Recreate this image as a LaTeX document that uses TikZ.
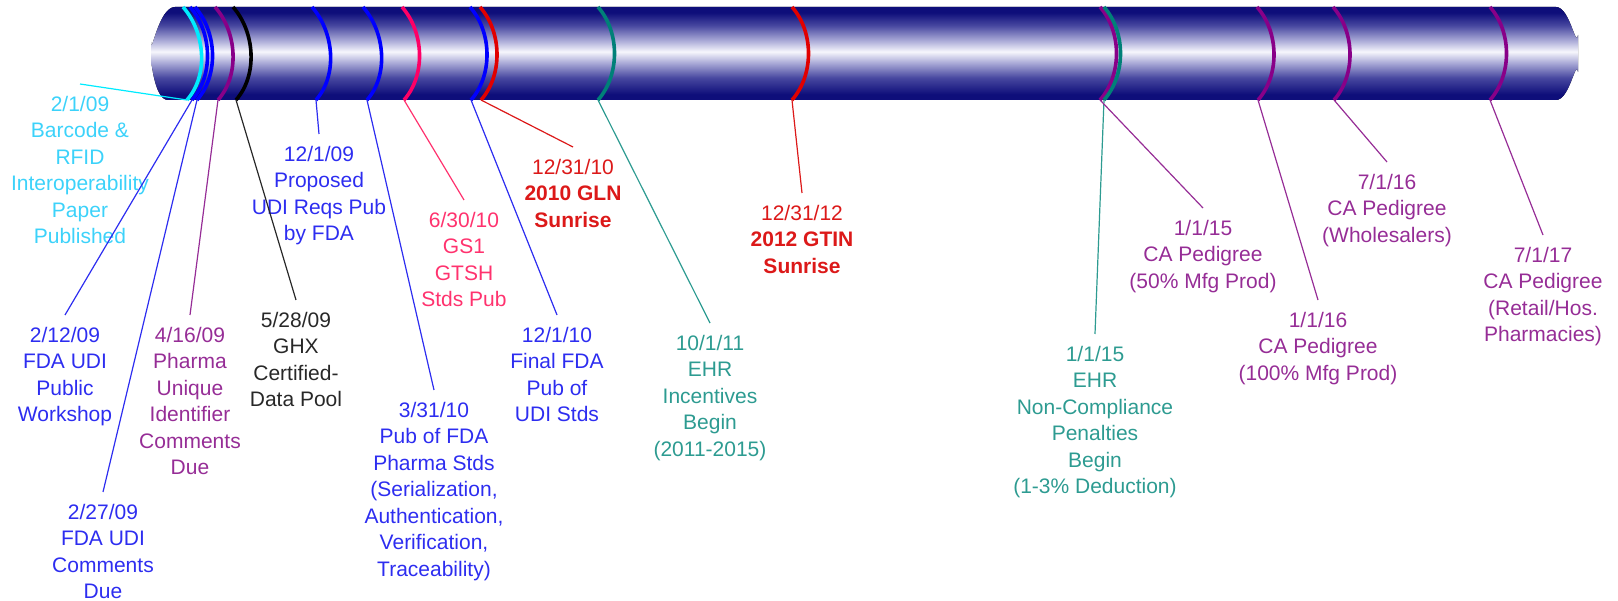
\documentclass[tikz,border=0pt]{standalone}
\usepackage{fontspec}
\setmainfont{Liberation Sans}
\definecolor{tubedark}{RGB}{14,14,122}
\definecolor{tubemid}{RGB}{72,72,160}
\definecolor{tubesoft}{RGB}{170,170,215}
\definecolor{tubelight}{RGB}{246,246,252}
\definecolor{cyanring}{RGB}{0,235,255}
\definecolor{cyantext}{RGB}{60,210,250}
\definecolor{bluering}{RGB}{0,0,255}
\definecolor{bluetext}{RGB}{45,45,240}
\definecolor{purplering}{RGB}{136,0,136}
\definecolor{purpletext}{RGB}{150,45,150}
\definecolor{blacktext}{RGB}{40,40,40}
\definecolor{pinkring}{RGB}{255,0,102}
\definecolor{pinktext}{RGB}{255,50,110}
\definecolor{redring}{RGB}{225,0,0}
\definecolor{redtext}{RGB}{220,25,25}
\definecolor{tealring}{RGB}{0,128,120}
\definecolor{tealtext}{RGB}{45,155,145}
\pgfdeclareverticalshading{tube}{100bp}{color(0bp)=(tubedark); color(25bp)=(tubedark); color(28bp)=(tubedark); color(37bp)=(tubemid); color(45bp)=(tubesoft); color(51bp)=(tubelight); color(57bp)=(tubesoft); color(65bp)=(tubemid); color(72bp)=(tubedark); color(100bp)=(tubedark)}

\begin{document}
\begin{tikzpicture}[x=1pt, y=-1pt,
    ring/.style={line width=3.6pt},
    lead/.style={line width=1.2pt},
    lbl/.style={anchor=north, align=center, inner sep=2pt, outer ysep=10pt,
        font=\fontsize{21}{26.5}\selectfont}]
    \useasboundingbox (0,0) rectangle (1618,601);
    \fill[shading=tube]
    (175,7) -- (1556,7) to[out=0,in=-100] (1578,35) -- (1578,72)
    to[out=100,in=0] (1556,100) -- (168,100) to[out=180,in=90] (151,65)
    -- (151,42) to[out=-90,in=180] (175,7) -- cycle;

    \coordinate (rbar) at (187,100);
    \coordinate (rwork) at (192,100);
    \coordinate (rcomm) at (197,100);
    \coordinate (rpharma) at (218,100);
    \coordinate (rghx) at (236,100);
    \coordinate (rprop) at (316,100);
    \coordinate (rpub) at (367,100);
    \coordinate (rgtsh) at (404,100);
    \coordinate (rfinal) at (471,100);
    \coordinate (rgln) at (481,100);
    \coordinate (rehr) at (598,100);
    \coordinate (rgtin) at (792,100);
    \coordinate (rca) at (1100,100);
    \coordinate (rpen) at (1104,100);
    \coordinate (rcas) at (1258,100);
    \coordinate (rwhole) at (1334,100);
    \coordinate (rretail) at (1490,100);

    \draw[ring, cyanring] (183,7) .. controls +(22,25) and +(22,-25) .. (rbar);
    \draw[ring, bluering] (190,7) .. controls +(22,25) and +(22,-25) .. (rwork);
    \draw[ring, bluering] (195,7) .. controls +(22,25) and +(22,-25) .. (rcomm);
    \draw[ring, purplering] (215,7) .. controls +(22,25) and +(22,-25) .. (rpharma);
    \draw[ring, black] (233,7) .. controls +(22,25) and +(22,-25) .. (rghx);
    \draw[ring, bluering] (312,7) .. controls +(22,25) and +(22,-25) .. (rprop);
    \draw[ring, bluering] (363,7) .. controls +(22,25) and +(22,-25) .. (rpub);
    \draw[ring, pinkring] (402,7) .. controls +(22,25) and +(22,-25) .. (rgtsh);
    \draw[ring, bluering] (470,7) .. controls +(22,25) and +(22,-25) .. (rfinal);
    \draw[ring, redring] (480,7) .. controls +(22,25) and +(22,-25) .. (rgln);
    \draw[ring, tealring] (598,7) .. controls +(22,25) and +(22,-25) .. (rehr);
    \draw[ring, redring] (792,7) .. controls +(22,25) and +(22,-25) .. (rgtin);
    \draw[ring, purplering] (1100,7) .. controls +(22,25) and +(22,-25) .. (rca);
    \draw[ring, tealring] (1104,7) .. controls +(22,25) and +(22,-25) .. (rpen);
    \draw[ring, purplering] (1257,7) .. controls +(22,25) and +(22,-25) .. (rcas);
    \draw[ring, purplering] (1333,7) .. controls +(22,25) and +(22,-25) .. (rwhole);
    \draw[ring, purplering] (1490,7) .. controls +(22,25) and +(22,-25) .. (rretail);

    \node[lbl, text=cyantext] (barcode) at (80,84) {2/1/09\\Barcode \&\\RFID\\Interoperability\\Paper\\Published};
    \node[lbl, text=bluetext] (workshop) at (65,315) {2/12/09\\FDA UDI\\Public\\Workshop};
    \node[lbl, text=bluetext] (udicomm) at (103,492) {2/27/09\\FDA UDI\\Comments\\Due};
    \node[lbl, text=purpletext] (pharma) at (190,315) {4/16/09\\Pharma\\Unique\\Identifier\\Comments\\Due};
    \node[lbl, text=blacktext] (ghx) at (296,300) {5/28/09\\GHX\\Certified-\\Data Pool};
    \node[lbl, text=bluetext] (proposed) at (319,134) {12/1/09\\Proposed\\UDI Reqs Pub\\by FDA};
    \node[lbl, text=bluetext] (pharmastd) at (434,390) {3/31/10\\Pub of FDA\\Pharma Stds\\(Serialization,\\Authentication,\\Verification,\\Traceability)};
    \node[lbl, text=pinktext] (gtsh) at (464,200) {6/30/10\\GS1\\GTSH\\Stds Pub};
    \node[lbl, text=bluetext] (finalpub) at (557,315) {12/1/10\\Final FDA\\Pub of\\UDI Stds};
    \node[lbl, text=redtext] (gln) at (573,147) {12/31/10\\\textbf{2010 GLN}\\\textbf{Sunrise}};
    \node[lbl, text=tealtext] (ehr) at (710,323) {10/1/11\\EHR\\Incentives\\Begin\\(2011-2015)};
    \node[lbl, text=redtext] (gtin) at (802,193) {12/31/12\\\textbf{2012 GTIN}\\\textbf{Sunrise}};
    \node[lbl, text=tealtext] (penalty) at (1095,334) {1/1/15\\EHR\\Non-Compliance\\Penalties\\Begin\\(1-3\% Deduction)};
    \node[lbl, text=purpletext] (cafifty) at (1203,208) {1/1/15\\CA Pedigree\\(50\% Mfg Prod)};
    \node[lbl, text=purpletext] (cahundred) at (1318,300) {1/1/16\\CA Pedigree\\(100\% Mfg Prod)};
    \node[lbl, text=purpletext] (cawhole) at (1387,162) {7/1/16\\CA Pedigree\\(Wholesalers)};
    \node[lbl, text=purpletext] (caretail) at (1543,235) {7/1/17\\CA Pedigree\\(Retail/Hos.\\Pharmacies)};

    \draw[lead, cyanring] (rbar) -- (barcode.north);
    \draw[lead, bluetext] (rwork) -- (workshop.north);
    \draw[lead, bluetext] (rcomm) -- (udicomm.north);
    \draw[lead, purpletext] (rpharma) -- (pharma.north);
    \draw[lead, blacktext] (rghx) -- (ghx.north);
    \draw[lead, bluetext] (rprop) -- (proposed.north);
    \draw[lead, bluetext] (rpub) -- (pharmastd.north);
    \draw[lead, pinktext] (rgtsh) -- (gtsh.north);
    \draw[lead, bluetext] (rfinal) -- (finalpub.north);
    \draw[lead, redtext] (rgln) -- (gln.north);
    \draw[lead, tealtext] (rehr) -- (ehr.north);
    \draw[lead, redtext] (rgtin) -- (gtin.north);
    \draw[lead, tealtext] (rpen) -- (penalty.north);
    \draw[lead, purpletext] (rca) -- (cafifty.north);
    \draw[lead, purpletext] (rcas) -- (cahundred.north);
    \draw[lead, purpletext] (rwhole) -- (cawhole.north);
    \draw[lead, purpletext] (rretail) -- (caretail.north);
\end{tikzpicture}
\end{document}
